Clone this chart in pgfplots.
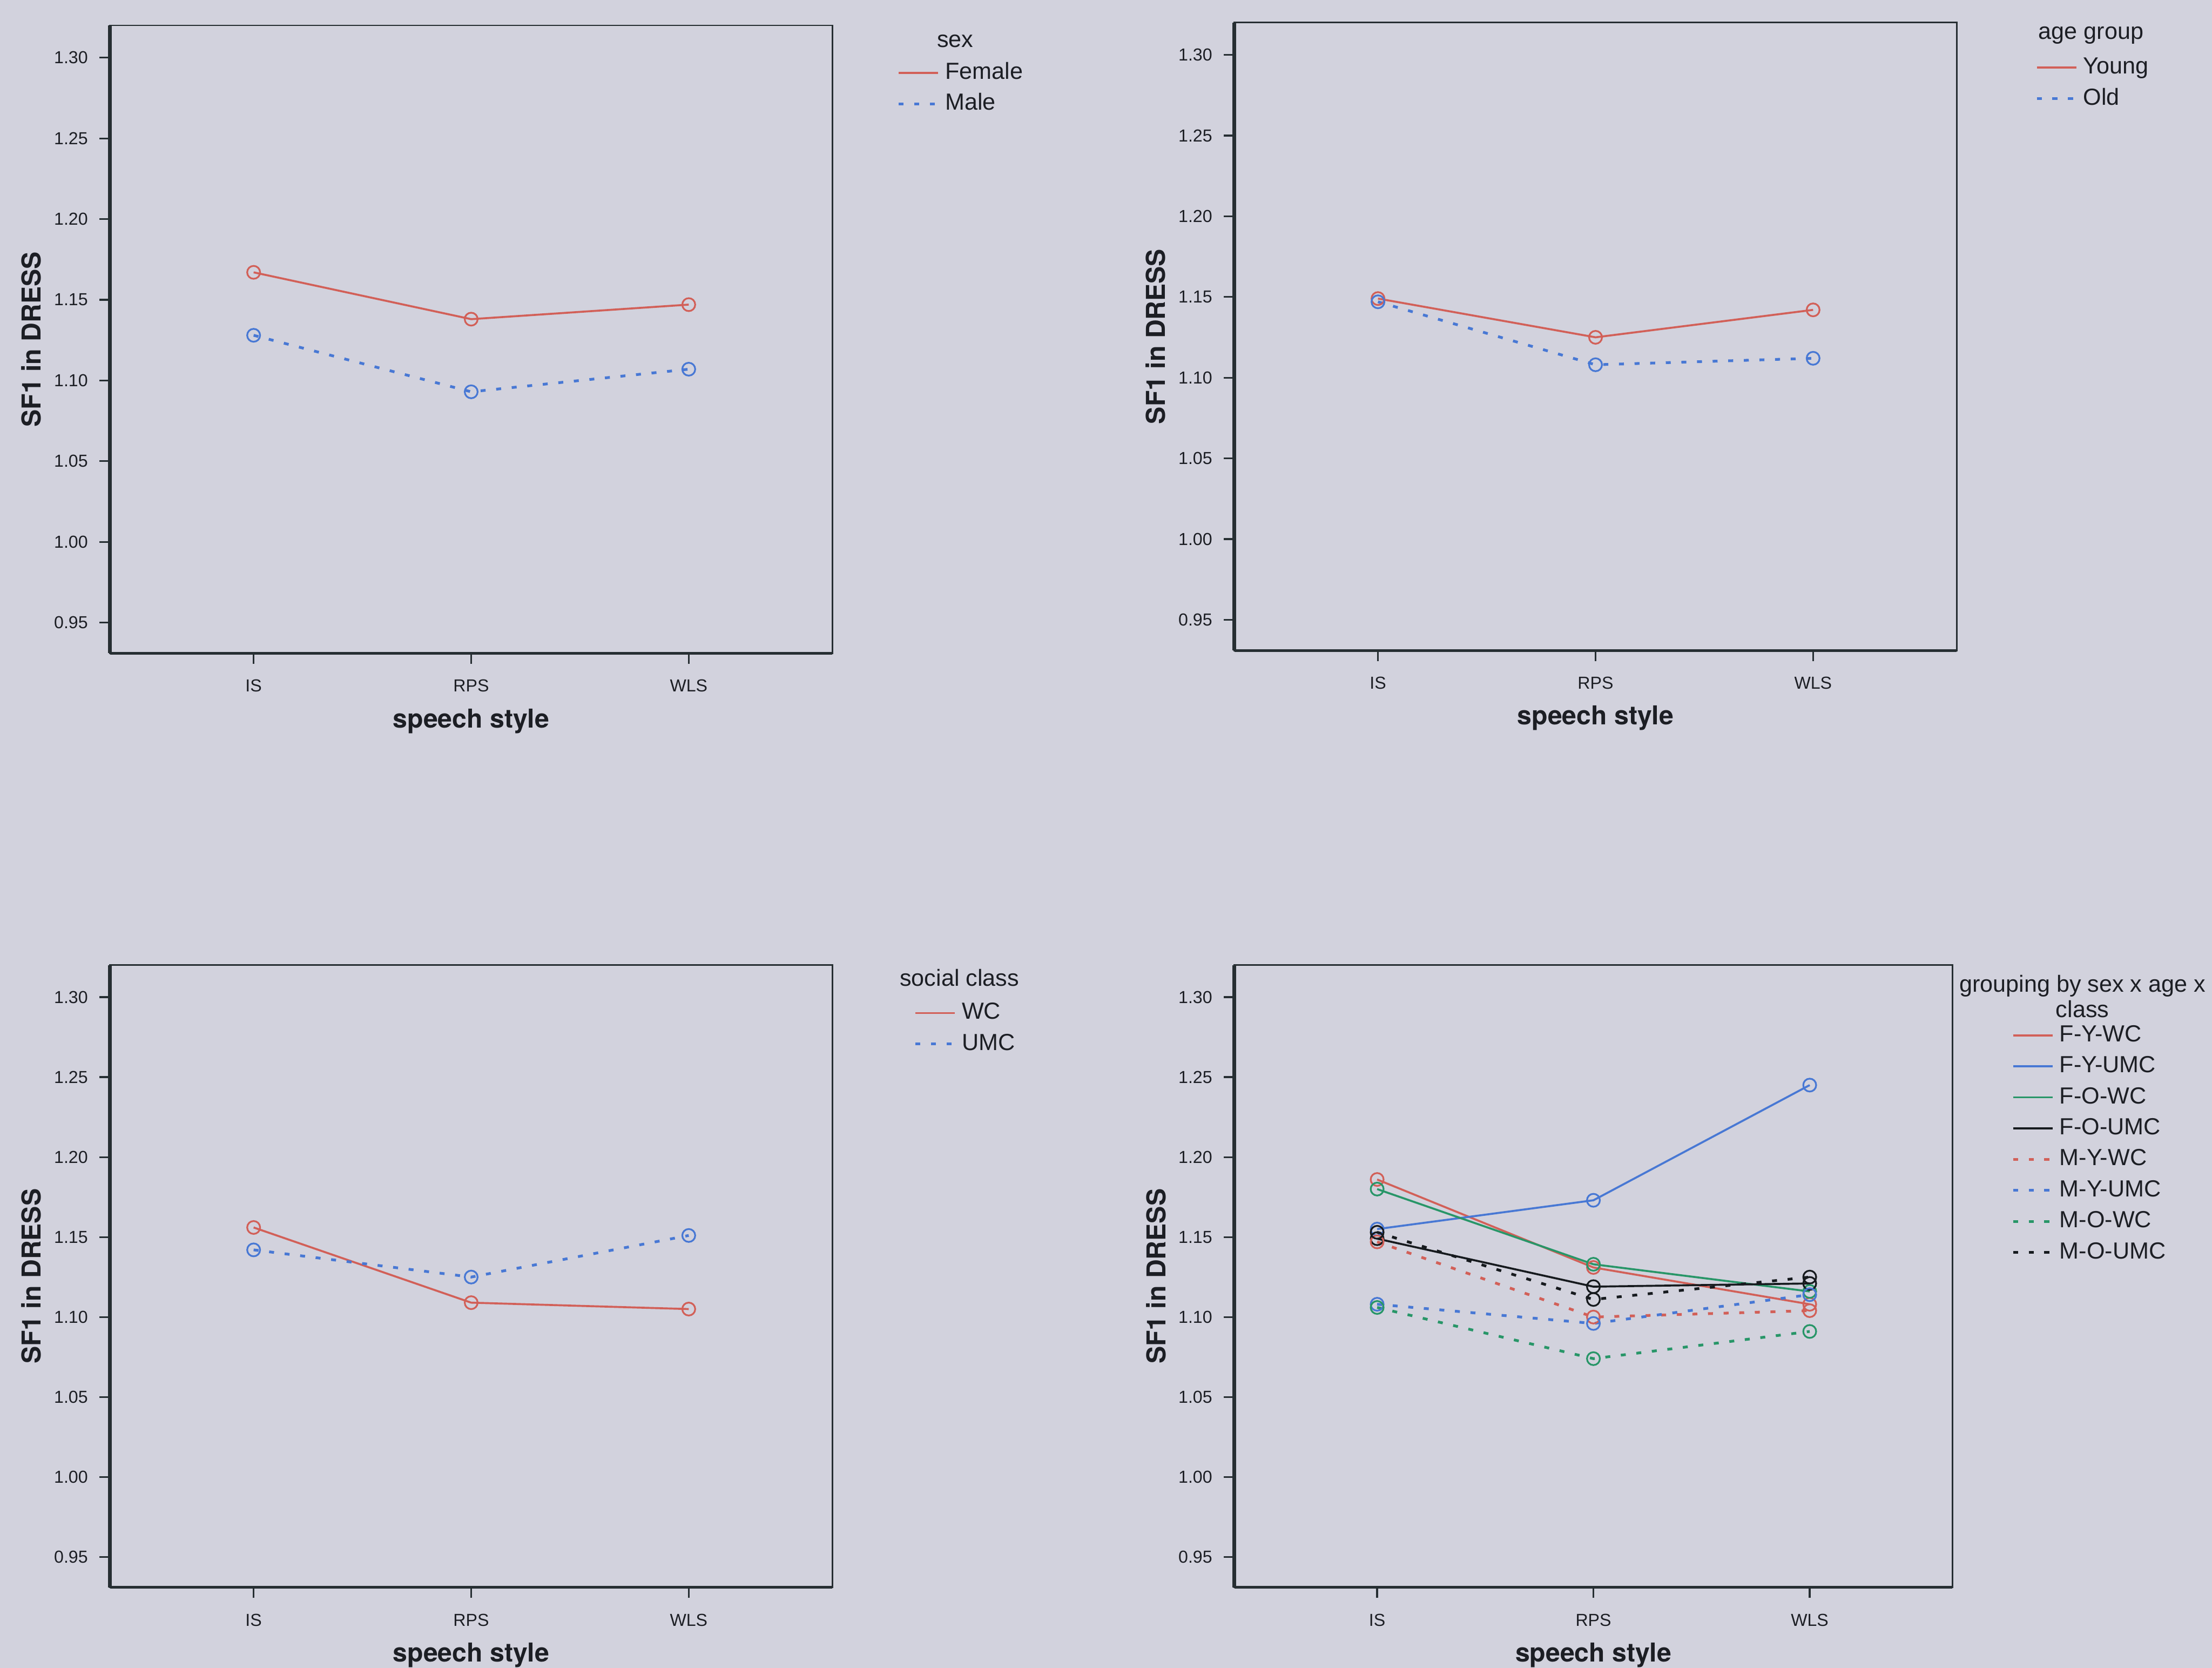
\documentclass[border=0pt]{standalone}
\usepackage{pgfplots}
\pgfplotsset{compat=1.18}
\usepackage{fontspec}
\setmainfont{Liberation Sans}
\newfontfamily\labfont{TeX Gyre Heros}

\definecolor{bg}{RGB}{210,210,221}
\definecolor{sred}{RGB}{210,96,88}
\definecolor{sblue}{RGB}{72,120,212}
\definecolor{sgreen}{RGB}{40,150,104}
\definecolor{sblack}{RGB}{22,26,30}
\definecolor{axisc}{RGB}{38,46,50}
\definecolor{txt}{RGB}{28,30,36}

\newcommand{\labelfont}{\labfont\bfseries\fontsize{10.5}{12}\selectfont}

\pgfplotsset{
  panel/.style={
    scale only axis, width=10.24cm, height=8.9cm,
    xmin=-0.66, xmax=2.66, ymin=0.931, ymax=1.320,
    clip=false,
    xtick={0,1,2}, xticklabels={IS,RPS,WLS},
    ytick={0.95,1.00,1.05,1.10,1.15,1.20,1.25,1.30},
    xtick pos=lower, ytick pos=left,
    tick align=outside, major tick length=0.15cm,
    tick style={axisc, line width=0.7pt},
    axis line style={axisc, line width=0.6pt},
    /pgf/number format/assume math mode=true,
    tick label style={font=\fontsize{7}{8}\selectfont, text=txt},
    xticklabel style={yshift=-0.1cm},
    yticklabel style={xshift=-0.04cm, /pgf/number format/.cd, fixed, fixed zerofill, precision=2},
    xlabel={\labelfont speech style}, ylabel={\labelfont SF1 in DRESS},
    every axis x label/.style={at={(axis description cs:0.5,0)}, anchor=center, yshift=-0.96cm, text=txt},
    every axis y label/.style={at={(axis description cs:-0.109,0.5)}, rotate=90, anchor=center, text=txt},
    legend image code/.code={\draw[#1] (0cm,0cm) -- (0.56cm,0cm);},
    legend cell align=left,
    legend style={draw=none, fill=none, inner sep=0pt, outer sep=0pt,
      font=\fontsize{9.4}{11}\selectfont, text=txt, row sep=3.5pt,
      nodes={inner sep=0pt, text height=7pt, text depth=2pt},
      /tikz/every odd column/.append style={column sep=0.08cm}},
  },
  solidser/.style={line width=0.8pt, mark=o, mark size=2.6pt, mark options={solid, line width=0.7pt}},
  dashser/.style={line width=1.1pt, dash pattern=on 2pt off 4.3pt, mark=o, mark size=2.6pt, mark options={solid, line width=0.7pt}},
}

\newcommand{\axisframe}{%
  \draw[axisc, line width=1.5pt] (axis description cs:0,0) -- (axis description cs:0,1);
  \draw[axisc, line width=1.0pt] (axis description cs:0,0) -- (axis description cs:1,0);
}

\begin{document}
\begin{tikzpicture}
\fill[bg] (0cm,0cm) rectangle (31.36cm,23.64cm);

% --- sex ---
\begin{axis}[panel, at={(1.56cm,23.28cm)}, anchor=north west,
  legend style={at={(axis description cs:1.09,0.942)}, anchor=north west}]
\addplot[sred, solidser] coordinates {(0,1.167) (1,1.138) (2,1.147)};
\addlegendentry{Female}
\addplot[sblue, dashser] coordinates {(0,1.128) (1,1.093) (2,1.107)};
\addlegendentry{Male}
\axisframe
\node[font=\fontsize{9.4}{11}\selectfont, text=txt] at (axis description cs:1.170,0.975) {sex};
\end{axis}

% --- age group ---
\begin{axis}[panel, at={(17.5cm,23.32cm)}, anchor=north west,
  legend style={at={(axis description cs:1.109,0.946)}, anchor=north west}]
\addplot[sred, solidser] coordinates {(0,1.149) (1,1.125) (2,1.142)};
\addlegendentry{Young}
\addplot[sblue, dashser] coordinates {(0,1.147) (1,1.108) (2,1.112)};
\addlegendentry{Old}
\axisframe
\node[font=\fontsize{9.4}{11}\selectfont, text=txt] at (axis description cs:1.186,0.98) {age group};
\end{axis}

% --- social class ---
\begin{axis}[panel, height=8.82cm, at={(1.56cm,9.96cm)}, anchor=north west,
  legend style={at={(axis description cs:1.113,0.941)}, anchor=north west}]
\addplot[sred, solidser] coordinates {(0,1.156) (1,1.109) (2,1.105)};
\addlegendentry{WC}
\addplot[sblue, dashser] coordinates {(0,1.142) (1,1.125) (2,1.151)};
\addlegendentry{UMC}
\axisframe
\node[font=\fontsize{9.4}{11}\selectfont, text=txt] at (axis description cs:1.176,0.98) {social class};
\end{axis}

% --- sex x age x class ---
\begin{axis}[panel, width=10.18cm, height=8.82cm, at={(17.5cm,9.96cm)}, anchor=north west,
  legend style={at={(axis description cs:1.0825,0.905)}, anchor=north west}]
\addplot[sred, solidser] coordinates {(0,1.186) (1,1.131) (2,1.108)};
\addlegendentry{F-Y-WC}
\addplot[sblue, solidser] coordinates {(0,1.155) (1,1.173) (2,1.245)};
\addlegendentry{F-Y-UMC}
\addplot[sgreen, solidser] coordinates {(0,1.180) (1,1.133) (2,1.116)};
\addlegendentry{F-O-WC}
\addplot[sblack, solidser] coordinates {(0,1.149) (1,1.119) (2,1.121)};
\addlegendentry{F-O-UMC}
\addplot[sred, dashser] coordinates {(0,1.147) (1,1.100) (2,1.104)};
\addlegendentry{M-Y-WC}
\addplot[sblue, dashser] coordinates {(0,1.108) (1,1.096) (2,1.114)};
\addlegendentry{M-Y-UMC}
\addplot[sgreen, dashser] coordinates {(0,1.106) (1,1.074) (2,1.091)};
\addlegendentry{M-O-WC}
\addplot[sblack, dashser] coordinates {(0,1.153) (1,1.111) (2,1.125)};
\addlegendentry{M-O-UMC}
\axisframe
\node[font=\fontsize{9.4}{10.2}\selectfont, text=txt, align=center, anchor=north]
  at (axis description cs:1.181,0.998) {grouping by sex x age x\\class};
\end{axis}

\pgfresetboundingbox
\useasboundingbox (0cm,0cm) rectangle (31.36cm,23.64cm);
\end{tikzpicture}
\end{document}
